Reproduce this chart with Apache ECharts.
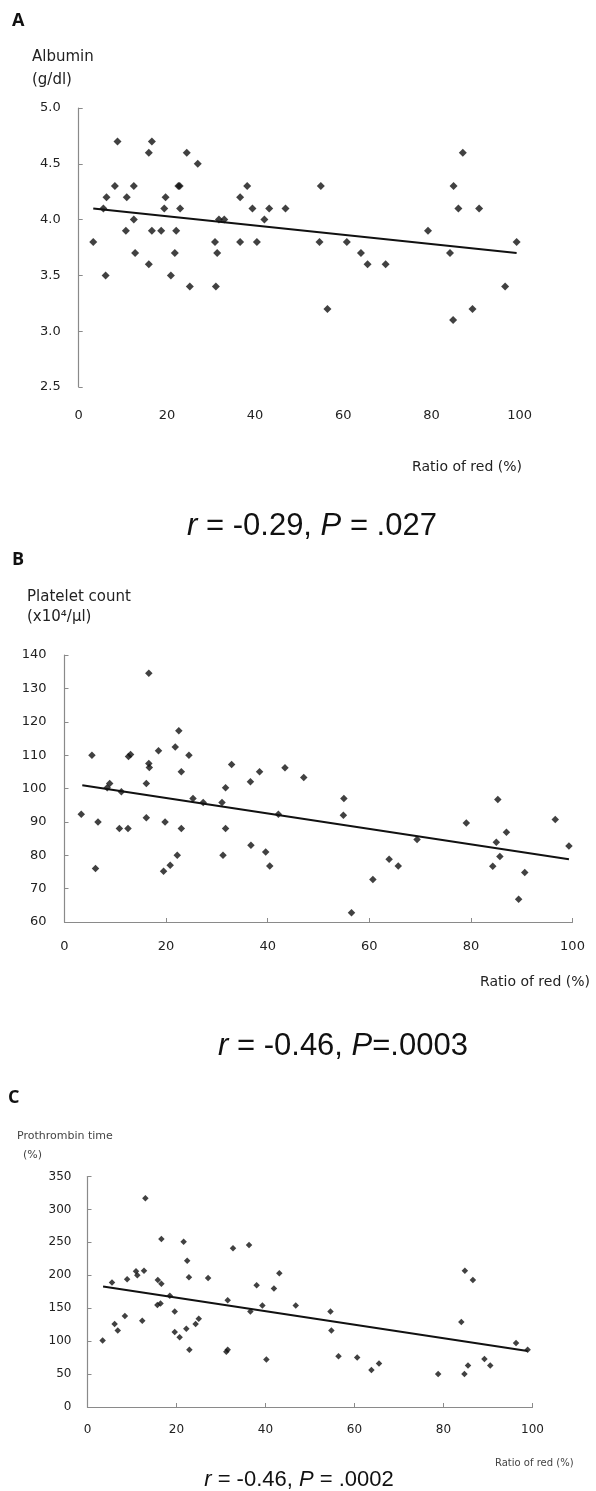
<!DOCTYPE html>
<html>
<head>
<meta charset="utf-8">
<script src="https://cdn.jsdelivr.net/npm/echarts@6/dist/echarts.min.js"></script>
<style>
html,body{margin:0;padding:0;background:#fff;}
#chart{width:596px;height:1491px;}
</style>
</head>
<body>
<div id="chart"></div>
<script>
// ---- Data ----
const xTicks = [0, 20, 40, 60, 80, 100];

const albuminX = [3.3,5.6,6.3,6.1,8.2,8.8,12.5,10.9,10.7,12.5,12.8,15.9,15.9,16.6,16.6,18.7,19.7,19.4,20.9,22.1,21.8,22.6,22.9,23.0,24.5,25.2,27.0,30.9,31.4,31.1,31.8,33.0,36.6,38.2,36.6,39.4,40.4,42.1,43.2,46.9,54.9,54.6,56.4,60.8,64.0,65.5,69.6,79.2,84.2,84.9,85.0,86.1,87.1,89.3,90.8,96.7,99.3];
const albuminY = [3.8,4.1,4.2,3.5,4.3,4.7,4.3,4.2,3.9,4.0,3.7,3.6,4.6,3.9,4.7,3.9,4.2,4.1,3.5,3.9,3.7,4.3,4.3,4.1,4.6,3.4,4.5,3.8,3.7,3.4,4.0,4.0,4.2,4.3,3.8,4.1,3.8,4.0,4.1,4.1,4.3,3.8,3.2,3.8,3.7,3.6,3.6,3.9,3.7,3.1,4.3,4.1,4.6,3.2,4.1,3.4,3.8];
const albuminTrendX = [3.3, 99.3];
const albuminTrendY = [4.10, 3.70];

const plateletX = [3.3,5.4,6.1,6.6,8.4,8.9,10.8,11.2,12.5,12.6,13.0,16.1,16.1,16.6,16.6,16.7,18.5,19.5,19.8,20.8,21.8,22.2,22.5,23.0,23.0,24.5,25.3,27.3,31.0,31.2,31.7,31.7,32.9,36.6,36.7,38.4,39.6,40.4,42.1,43.4,47.1,54.9,55.0,56.5,60.7,63.9,65.7,69.4,79.1,84.3,85.0,85.3,85.7,87.0,89.4,90.6,96.6,99.3];
const plateletY = [92.3,110,76,90,100.2,101.5,88,99,88,109.6,110.2,101.5,91.2,134.5,107.5,106.3,111.3,75.2,90,77,112.4,80,117.3,105,88,110,97,95.8,95.8,80,100.2,88,107.2,102,83,105,81,76.8,92.3,106.2,103.3,92,97,62.8,72.7,78.8,76.8,84.7,89.7,76.7,83.9,96.7,79.6,86.9,66.8,74.8,90.7,82.8];
const plateletTrendX = [3.5, 99.3];
const plateletTrendY = [101.0, 78.8];

const prothrombinX = [3.4,5.5,6.1,6.8,8.4,8.9,10.9,11.2,12.3,12.7,13.0,15.7,15.8,16.4,16.6,16.6,18.5,19.6,19.6,20.7,21.6,22.2,22.4,22.8,22.9,24.3,25.0,27.1,31.2,31.5,31.5,32.7,36.3,36.6,38.0,39.3,40.2,41.9,43.1,46.8,54.6,54.8,56.4,60.6,63.8,65.5,78.8,84.0,84.7,84.8,85.5,86.6,89.2,90.5,96.3,98.9];
const prothrombinY = [101,189,126,116,138,194,206,200,131,207,317,155,193,157,187,255,169,145,114,106,251,119,222,197,87,126,134,196,84,87,162,241,246,145,185,154,72,180,203,154,145,116,77,75,56,66,50,129,50,207,63,193,73,63,97,87];
const prothrombinTrendX = [3.5, 98.9];
const prothrombinTrendY = [183, 85];

// ---- Build ----
const zip = (xs, ys) => xs.map((x, i) => [x, ys[i]]);
const FONT = '"DejaVu Sans", sans-serif';
const AX = '#8a8a8a';
const INK = '#111';

function xAxisCfg(gi, showLine, margin, fs) {
  return {
    type: 'value', gridIndex: gi, min: xTicks[0], max: xTicks[xTicks.length - 1], interval: xTicks[1] - xTicks[0],
    axisLine: { show: showLine, lineStyle: { color: AX, width: 1.2 } },
    axisTick: { show: showLine, inside: true, length: 4, lineStyle: { color: AX } },
    splitLine: { show: false },
    axisLabel: { margin: margin, color: '#222', fontFamily: FONT, fontSize: fs }
  };
}
function yAxisCfg(gi, min, max, interval, dec, margin, fs) {
  return {
    type: 'value', gridIndex: gi, min: min, max: max, interval: interval,
    axisLine: { show: true, lineStyle: { color: AX, width: 1.2 } },
    axisTick: { show: true, inside: true, length: 4, lineStyle: { color: AX } },
    splitLine: { show: false },
    axisLabel: { margin: margin, color: '#222', fontFamily: FONT, fontSize: fs,
      formatter: v => v.toFixed(dec) }
  };
}
function scatter(i, xs, ys, size) {
  return { type: 'scatter', xAxisIndex: i, yAxisIndex: i, data: zip(xs, ys),
    symbol: 'diamond', symbolSize: size, itemStyle: { color: INK }, silent: true, z: 3 };
}
function trend(i, xs, ys) {
  return { type: 'line', xAxisIndex: i, yAxisIndex: i, data: zip(xs, ys),
    showSymbol: false, symbol: 'none', lineStyle: { color: INK, width: 2 }, silent: true, z: 2 };
}
function txt(text, x, y, font, extra) {
  return { type: 'text', x: x, y: y, style: Object.assign({ text: text, font: font, fill: '#222' }, extra || {}) };
}
const richI = { i: { fontStyle: 'italic', fontFamily: '"Liberation Sans", Arial, sans-serif', fontSize: 31, fill: INK } };

const chart = echarts.init(document.getElementById('chart'), null, { renderer: 'canvas' });
chart.setOption({
  animation: false,
  backgroundColor: '#fff',
  grid: [
    { left: 78.7, top: 108, width: 441, height: 279 },
    { left: 64.5, top: 655, width: 508, height: 267 },
    { left: 87.5, top: 1176.5, width: 445, height: 230.5 }
  ],
  xAxis: [ xAxisCfg(0, false, 22, 13), xAxisCfg(1, true, 18, 13), xAxisCfg(2, true, 17, 12) ],
  yAxis: [ yAxisCfg(0, 2.5, 5.0, 0.5, 1, 18, 13), yAxisCfg(1, 60, 140, 10, 0, 18, 13), yAxisCfg(2, 0, 350, 50, 0, 16, 12) ],
  series: [
    scatter(0, albuminX, albuminY, 8), trend(0, albuminTrendX, albuminTrendY),
    scatter(1, plateletX, plateletY, 7.5), trend(1, plateletTrendX, plateletTrendY),
    scatter(2, prothrombinX, prothrombinY, 6.5), trend(2, prothrombinTrendX, prothrombinTrendY)
  ],
  graphic: [
    txt('A', 12, 12, 'bold 18px "Open Sans", sans-serif', { fill: INK }),
    txt('Albumin', 32, 50, '15px ' + FONT),
    txt('(g/dl)', 32, 73, '15px ' + FONT),
    txt('Ratio of red (%)', 412, 460, '14px ' + FONT),
    { type: 'text', x: 312, y: 526, style: { text: '{i|r} = -0.29, {i|P} = .027', font: '31px "Liberation Sans", Arial, sans-serif', fill: INK, align: 'center', verticalAlign: 'middle', rich: richI } },

    txt('B', 12, 551, 'bold 18px "Open Sans", sans-serif', { fill: INK }),
    txt('Platelet count', 27, 590, '15px ' + FONT),
    txt('(x10\u2074/\u03bcl)', 27, 610, '15px ' + FONT),
    txt('Ratio of red (%)', 480, 975, '14px ' + FONT),
    { type: 'text', x: 343, y: 1046, style: { text: '{i|r} = -0.46, {i|P}=.0003', font: '31px "Liberation Sans", Arial, sans-serif', fill: INK, align: 'center', verticalAlign: 'middle', rich: richI } },

    txt('C', 8, 1089, 'bold 18px "Open Sans", sans-serif', { fill: INK }),
    txt('Prothrombin time', 17, 1131, '11px ' + FONT, { fill: '#444' }),
    txt('(%)', 23, 1150, '11px ' + FONT, { fill: '#444' }),
    txt('Ratio of red (%)', 495, 1458, '10px ' + FONT, { fill: '#444' }),
    { type: 'text', x: 299, y: 1480, style: { text: '{i|r} = -0.46, {i|P} = .0002', font: '22px "Liberation Sans", Arial, sans-serif', fill: INK, align: 'center', verticalAlign: 'middle',
      rich: { i: { fontStyle: 'italic', fontFamily: '"Liberation Sans", Arial, sans-serif', fontSize: 22, fill: INK } } } }
  ]
});
</script>
</body>
</html>
